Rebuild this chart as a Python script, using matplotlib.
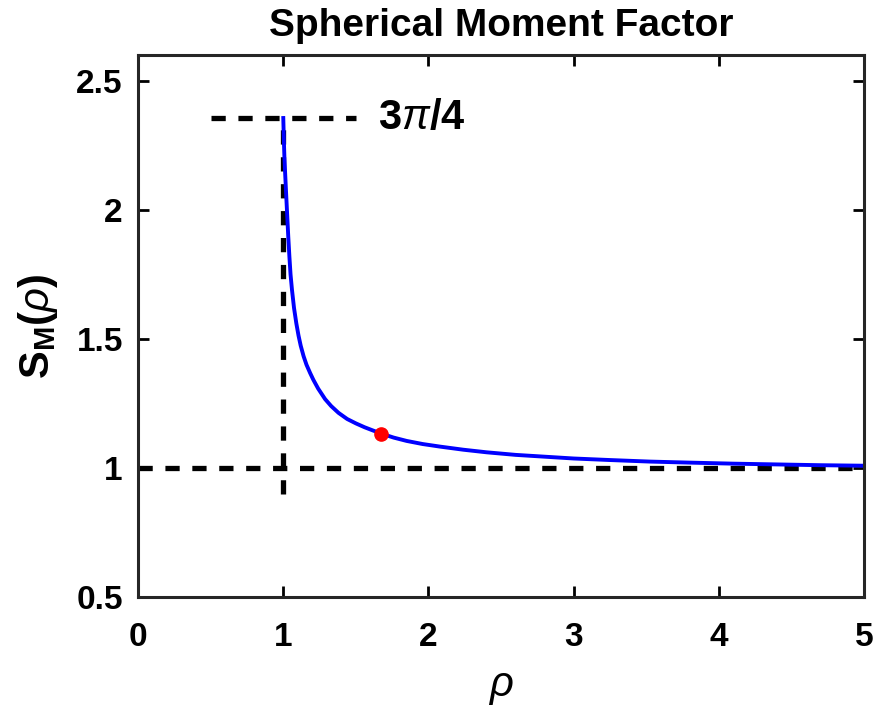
import matplotlib
matplotlib.use("Agg")
import matplotlib.pyplot as plt

plt.rcParams["font.family"] = ["Liberation Sans", "DejaVu Sans"]
plt.rcParams["font.weight"] = "bold"
plt.rcParams["mathtext.fontset"] = "custom"
plt.rcParams["mathtext.rm"] = "Liberation Sans:weight=normal"
plt.rcParams["mathtext.bf"] = "Liberation Sans:weight=bold"
plt.rcParams["mathtext.it"] = "Liberation Sans:style=italic:weight=normal"

# sampled moment factor curve
rho = [1.000, 1.004, 1.008, 1.013, 1.019, 1.026, 1.034, 1.042, 1.050, 1.060,
       1.074, 1.090, 1.105, 1.120, 1.140, 1.160, 1.185, 1.207, 1.240, 1.288,
       1.330, 1.380, 1.440, 1.500, 1.560, 1.620, 1.678, 1.760, 1.850, 1.960,
       2.080, 2.240, 2.400, 2.600, 2.800, 3.000, 3.250, 3.526, 3.800, 4.100,
       4.400, 4.700, 5.000]
s_m = [2.356, 2.270, 2.200, 2.140, 2.070, 1.990, 1.900, 1.820, 1.750, 1.690,
       1.620, 1.560, 1.513, 1.474, 1.433, 1.400, 1.368, 1.342, 1.308, 1.267,
       1.240, 1.214, 1.190, 1.173, 1.158, 1.145, 1.133, 1.118, 1.105, 1.093,
       1.083, 1.071, 1.061, 1.051, 1.044, 1.037, 1.031, 1.025, 1.021, 1.017,
       1.014, 1.011, 1.009]

# highlighted point
rho_pt = 1.67
s_pt = 1.133

# reference levels
s_max = 2.356   # 3*pi/4
s_inf = 1.0

fig = plt.figure(figsize=(8.74, 7.10), dpi=100)
ax = fig.add_axes([0.158, 0.159, 0.8306, 0.7635])

dash = dict(color="black", lw=3.8, dashes=(2.7, 2.4))
ax.plot([0, 5], [s_inf, s_inf], **dash)
ax.plot([1, 1], [0.9, s_max], **dash)
ax.plot([0.5, 1.5], [s_max, s_max], **dash)
ax.plot(rho, s_m, color="blue", lw=2.8)
ax.plot(rho_pt, s_pt, "o", color="red", ms=9.5)

ax.text(1.65, s_max, r"$\mathbf{3}\pi\mathbf{/4}$", fontsize=30,
        va="center", ha="left")

ax.set_xlim(0, 5)
ax.set_ylim(0.5, 2.6)
ax.set_xticks([0, 1, 2, 3, 4, 5])
ax.set_yticks([0.5, 1, 1.5, 2, 2.5])
ax.set_yticklabels(["0.5", "1", "1.5", "2", "2.5"])
ax.tick_params(direction="in", top=True, right=True, length=8, width=2,
               labelsize=24)
ax.tick_params(axis="x", pad=18)
ax.tick_params(axis="y", pad=11)
for lab in ax.get_xticklabels() + ax.get_yticklabels():
    lab.set_fontweight("bold")
for sp in ax.spines.values():
    sp.set_linewidth(2.2)
    sp.set_color("#262626")

ax.set_title("Spherical Moment Factor", fontsize=28, fontweight="bold", pad=14)
ax.set_xlabel(r"$\rho$", fontsize=30, labelpad=10)
ax.set_ylabel(r"$\mathbf{S_M(}\rho\mathbf{)}$", fontsize=30, labelpad=12)

fig.savefig("out.png", dpi=100)
